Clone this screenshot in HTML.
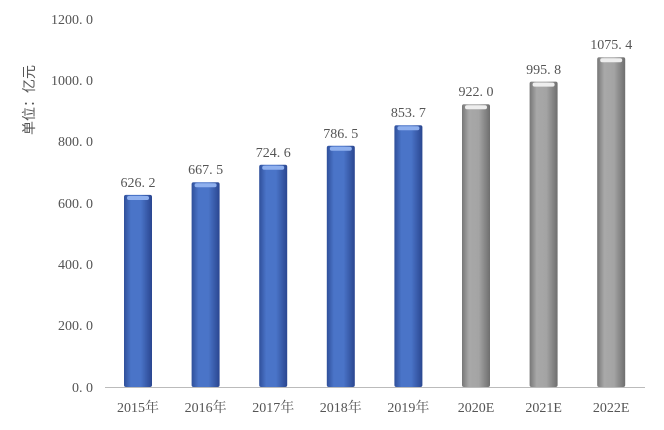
<!DOCTYPE html>
<html><head><meta charset="utf-8"><style>
body{margin:0;background:#fff;}
svg text{font-family:"Liberation Serif","Noto Serif CJK SC",serif;fill:#555;font-size:14px;}
</style></head><body>
<svg width="664" height="425" viewBox="0 0 664 425" xmlns="http://www.w3.org/2000/svg">
<defs>
<linearGradient id="b" x1="0" x2="1"><stop offset="0" stop-color="#2f4f9a"/><stop offset="0.25" stop-color="#4a74c8"/><stop offset="0.6" stop-color="#4a74c8"/><stop offset="1" stop-color="#2a4690"/></linearGradient>
<linearGradient id="g" x1="0" x2="1"><stop offset="0" stop-color="#777"/><stop offset="0.25" stop-color="#a8a8a8"/><stop offset="0.6" stop-color="#a4a4a4"/><stop offset="1" stop-color="#6e6e6e"/></linearGradient>
</defs>
<g text-anchor="end">
<text x="93" y="392">0. 0</text>
<text x="93" y="330">200. 0</text>
<text x="93" y="269">400. 0</text>
<text x="93" y="208">600. 0</text>
<text x="93" y="146">800. 0</text>
<text x="93" y="85">1000. 0</text>
<text x="93" y="24">1200. 0</text>
</g>
<text transform="translate(34,100) rotate(-90)" text-anchor="middle" style="font-family:'Noto Sans CJK SC',sans-serif">单位：亿元</text>
<line x1="105" y1="387.5" x2="645" y2="387.5" stroke="#bbb"/>

<rect x="124" y="194.9" width="28" height="192.1" fill="url(#b)" rx="2"/><rect x="127" y="196" width="22" height="4" fill="#8fb0ee" rx="2"/>
<rect x="191.6" y="182.3" width="28" height="204.7" fill="url(#b)" rx="2"/><rect x="194.6" y="183.3" width="22" height="4" fill="#8fb0ee" rx="2"/>
<rect x="259.2" y="164.8" width="28" height="222.2" fill="url(#b)" rx="2"/><rect x="262.2" y="165.8" width="22" height="4" fill="#8fb0ee" rx="2"/>
<rect x="326.8" y="145.8" width="28" height="241.2" fill="url(#b)" rx="2"/><rect x="329.8" y="146.8" width="22" height="4" fill="#8fb0ee" rx="2"/>
<rect x="394.4" y="125.2" width="28" height="261.8" fill="url(#b)" rx="2"/><rect x="397.4" y="126.2" width="22" height="4" fill="#8fb0ee" rx="2"/>
<rect x="462" y="104.2" width="28" height="282.8" fill="url(#g)" rx="2"/><rect x="465" y="105.2" width="22" height="4" fill="#eee" rx="2"/>
<rect x="529.6" y="81.6" width="28" height="305.4" fill="url(#g)" rx="2"/><rect x="532.6" y="82.6" width="22" height="4" fill="#eee" rx="2"/>
<rect x="597.2" y="57.2" width="28" height="329.8" fill="url(#g)" rx="2"/><rect x="600.2" y="58.2" width="22" height="4" fill="#eee" rx="2"/>

<g text-anchor="middle">
<text x="138" y="187">626. 2</text>
<text x="205.6" y="174">667. 5</text>
<text x="273.2" y="157">724. 6</text>
<text x="340.8" y="138">786. 5</text>
<text x="408.4" y="117">853. 7</text>
<text x="476" y="96">922. 0</text>
<text x="543.6" y="74">995. 8</text>
<text x="611.2" y="49">1075. 4</text>
<text x="138" y="412">2015年</text>
<text x="205.6" y="412">2016年</text>
<text x="273.2" y="412">2017年</text>
<text x="340.8" y="412">2018年</text>
<text x="408.4" y="412">2019年</text>
<text x="476" y="412">2020E</text>
<text x="543.6" y="412">2021E</text>
<text x="611.2" y="412">2022E</text>
</g>
</svg>
</body></html>
